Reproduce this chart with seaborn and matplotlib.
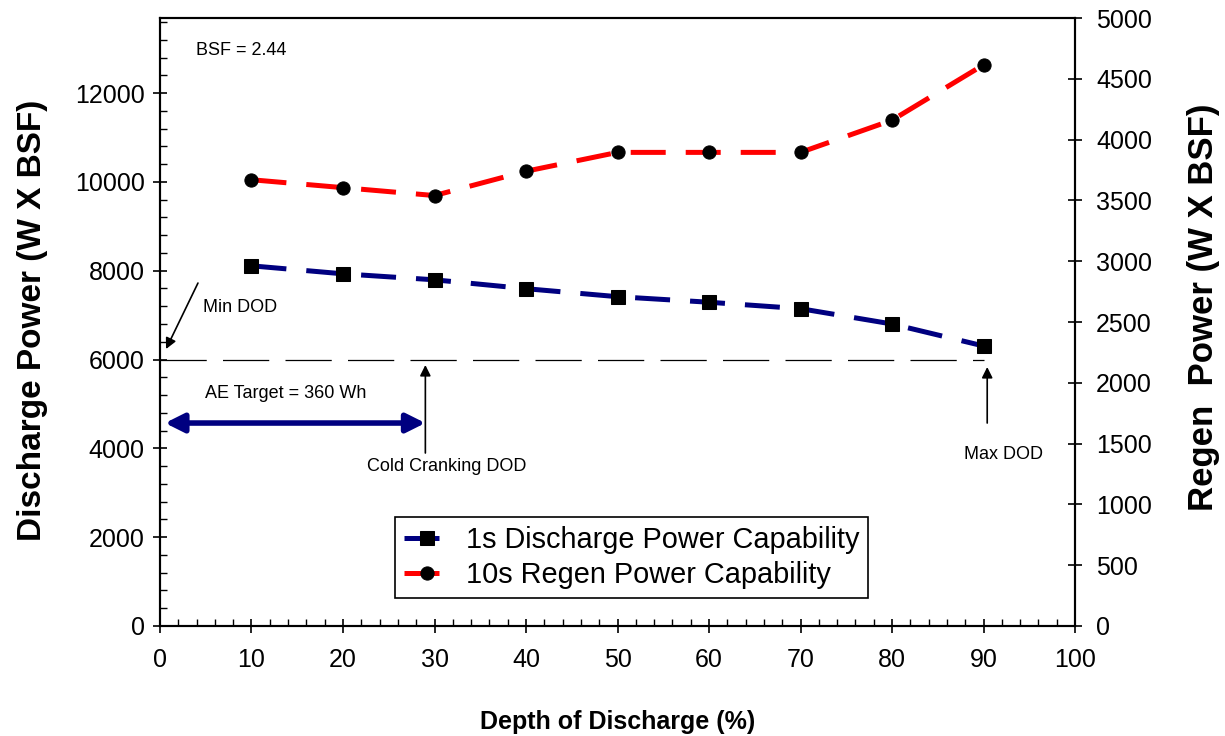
import matplotlib
matplotlib.use("Agg")
import matplotlib.pyplot as plt
from matplotlib.ticker import MultipleLocator
import pandas as pd
import seaborn as sns

# Depth of discharge (%) and power capability at each test point
dod = [10, 20, 30, 40, 50, 60, 70, 80, 90]
discharge_power = [8110, 7930, 7795, 7595, 7415, 7290, 7145, 6800, 6305]   # W x BSF, left axis
regen_power = [3670, 3605, 3540, 3740, 3895, 3895, 3895, 4160, 4615]       # W x BSF, right axis

power_target = 6000   # discharge power target line
min_dod = 0
max_dod = 90
cold_crank_dod = 29

sns.set_theme(style="white")
plt.rcParams["font.family"] = ["Liberation Sans", "DejaVu Sans"]
plt.rcParams.update({
    "text.color": "black",
    "axes.labelcolor": "black",
    "xtick.color": "black",
    "ytick.color": "black",
})

df = pd.DataFrame({"dod": dod, "discharge": discharge_power, "regen": regen_power})

fig = plt.figure(figsize=(12.25, 7.36), dpi=100)
ax = fig.add_axes([0.1306, 0.1495, 0.7470, 0.8260])
ax2 = ax.twinx()

navy = "#000080"
red = "#FF0000"

sns.lineplot(data=df, x="dod", y="discharge", ax=ax, color=navy, linewidth=3.6,
             marker="s", markersize=9.5, markerfacecolor="black",
             markeredgecolor="black", label="1s Discharge Power Capability",
             legend=False)
sns.lineplot(data=df, x="dod", y="regen", ax=ax2, color=red, linewidth=3.6,
             marker="o", markersize=9.5, markerfacecolor="black",
             markeredgecolor="black", label="10s Regen Power Capability",
             legend=False)
for line in ax.get_lines() + ax2.get_lines():
    line.set_dashes((7, 4))
    line.set_dash_capstyle("butt")

# target line between min and max DOD
ax.hlines(power_target, min_dod, max_dod, colors="black", linewidth=0.9,
          linestyles=(0, (37, 13)), zorder=1)

# axes limits and ticks
ax.set_xlim(0, 100)
ax.set_ylim(0, 13690)
ax2.set_ylim(0, 5000)
ax.xaxis.set_major_locator(MultipleLocator(10))
ax.xaxis.set_minor_locator(MultipleLocator(2))
ax.yaxis.set_major_locator(MultipleLocator(2000))
ax.yaxis.set_minor_locator(MultipleLocator(400))
ax2.yaxis.set_major_locator(MultipleLocator(500))

for a in (ax, ax2):
    for s in a.spines.values():
        s.set_color("black")
        s.set_linewidth(1.5)

ax.tick_params(axis="x", which="major", direction="inout", length=10, width=1.2,
               labelsize=18, pad=11, colors="black", bottom=True)
ax.tick_params(axis="x", which="minor", direction="in", length=5, width=1,
               bottom=True, colors="black")
ax.tick_params(axis="y", which="major", direction="inout", length=10, width=1.2,
               labelsize=18, pad=6, colors="black", left=True)
ax.tick_params(axis="y", which="minor", direction="in", length=5, width=1,
               left=True, colors="black")
ax2.tick_params(axis="y", which="major", direction="inout", length=10, width=1.2,
                labelsize=18, pad=10, colors="black", right=True)

ax.set_xlabel("Depth of Discharge (%)", fontsize=18, fontweight="bold")
ax.xaxis.set_label_coords(0.5, -0.138)
ax.set_ylabel("Discharge Power (W X BSF)", fontsize=24, fontweight="bold")
ax.yaxis.set_label_coords(-0.1224, 0.503)
ax2.set_ylabel("Regen  Power (W X BSF)", fontsize=25, fontweight="bold")
ax2.yaxis.set_label_coords(1.1224, 0.525)

# annotations
note = dict(fontsize=13, color="black")
ax.text(3.9, 12970, "BSF = 2.44", va="center", ha="left", **note)
ax.annotate("", xy=(0.66, 6236), xytext=(4.15, 7722),
            arrowprops=dict(arrowstyle="-|>", color="black", lw=1.2,
                            mutation_scale=16, shrinkA=0, shrinkB=0))
ax.text(4.7, 7182, "Min DOD", va="center", ha="left", **note)
ax.text(4.9, 5246, "AE Target = 360 Wh", va="center", ha="left", **note)
ax.annotate("", xy=(min_dod + 0.55, 4570), xytext=(cold_crank_dod, 4570),
            arrowprops=dict(arrowstyle="<|-|>", color=navy, lw=4,
                            mutation_scale=28, shrinkA=0, shrinkB=0))
ax.annotate("", xy=(cold_crank_dod, 5876), xytext=(cold_crank_dod, 3895),
            arrowprops=dict(arrowstyle="-|>", color="black", lw=1.2,
                            mutation_scale=16, shrinkA=0, shrinkB=0))
ax.text(31.3, 3580, "Cold Cranking DOD", va="center", ha="center", **note)
ax.annotate("", xy=(90.4, 5831), xytext=(90.4, 4570),
            arrowprops=dict(arrowstyle="-|>", color="black", lw=1.2,
                            mutation_scale=16, shrinkA=0, shrinkB=0))
ax.text(92.2, 3850, "Max DOD", va="center", ha="center", **note)

# legend
handles = ax.get_lines()[:1] + ax2.get_lines()[:1]
leg = ax.legend(handles, [h.get_label() for h in handles], loc="lower left",
                bbox_to_anchor=(0.257, 0.046), fontsize=20.8, frameon=True,
                fancybox=False, edgecolor="black", framealpha=1,
                handlelength=1.6, borderpad=0.3, labelspacing=0.25,
                handletextpad=0.55, borderaxespad=0)
leg.get_frame().set_linewidth(1.2)
leg.set_zorder(10)

ax.set_zorder(ax2.get_zorder() + 1)
ax.patch.set_visible(False)

fig.savefig("out.png", dpi=100)
